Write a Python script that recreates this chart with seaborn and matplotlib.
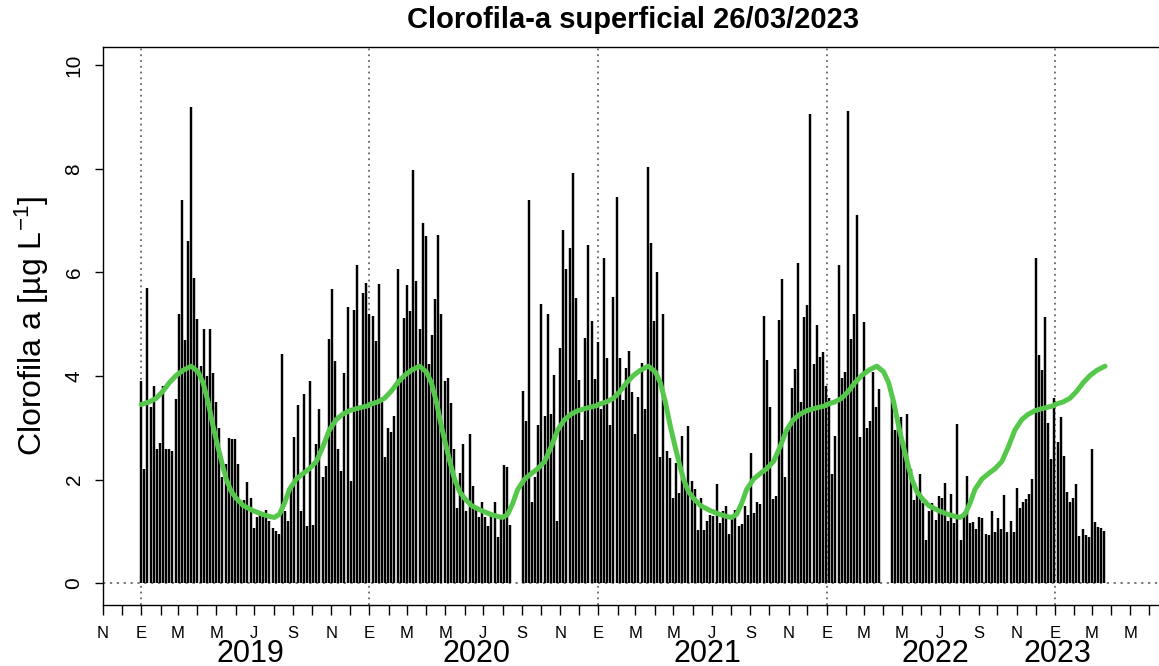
#!/usr/bin/env python3
""" Clorofila-a superficial: serie de 5 dias y climatologia """

import pandas as pd
import numpy as np
import matplotlib
matplotlib.use('Agg')
import matplotlib.pyplot as plt
import matplotlib.dates as mdates
import matplotlib.ticker as mticker
import seaborn as sns

# Valores (ug/L), un valor cada 5 dias desde 2019-01-01
chl_2019 = [3.9, 2.2, 5.7, 3.4, 3.8, 2.6, 2.7, 3.8, 2.6, 2.6,
            2.55, 3.55, 5.2, 7.4, 4.7, 6.6, 9.2, 5.9, 5.1, 4.2,
            4.9, 4.0, 4.9, 4.05, 3.5, 3.0, 2.05, 2.3, 2.8, 2.78,
            2.78, 2.3, 1.55, 1.6, 1.95, 1.65, 1.07, 1.27, 1.35, 1.3,
            1.42, 1.2, 1.07, 1.0, 0.95, 4.42, 1.4, 1.2, 1.9, 2.83,
            3.44, 1.4, 3.65, 1.1, 3.9, 1.13, 2.69, 3.37, 2.05, 2.27,
            4.71, 5.67, 4.28, 2.6, 2.17, 4.06, 5.33, 1.98, 5.27, 6.15,
            3.36, 5.6, 5.8]
chl_2020 = [5.2, 5.16, 4.67, 5.77, 3.5, 2.43, 2.99, 2.91, 3.23, 6.06,
            3.98, 5.11, 5.75, 5.26, 7.97, 5.84, 4.9, 6.96, 6.7, 4.23,
            4.79, 5.49, 6.73, 5.2, 3.9, 3.96, 3.47, 2.6, 1.46, 2.13,
            2.68, 1.4, 2.89, 1.88, 1.44, 1.28, 1.56, 1.28, 1.1, 1.33,
            1.57, 0.89, 1.3, 2.28, 2.25, 1.13, np.nan, np.nan, np.nan, 3.71,
            3.13, 7.4, 1.57, 2.05, 3.06, 5.39, 3.22, 5.2, 3.27, 4.01,
            1.2, 4.54, 6.81, 6.06, 6.47, 7.91, 5.5, 3.92, 2.76, 4.73,
            6.52, 5.06, 3.94]
chl_2021 = [4.65, 3.37, 6.28, 4.35, 3.06, 5.53, 7.45, 4.35, 3.54, 4.15,
            4.48, 3.7, 2.89, 3.6, 4.26, 3.37, 8.03, 6.56, 5.06, 6.01,
            2.43, 5.2, 2.55, 2.42, 1.64, 2.32, 1.74, 2.84, 1.94, 3.03,
            1.98, 1.81, 1.03, 1.64, 1.03, 1.2, 1.32, 1.3, 1.91, 1.16,
            1.4, 1.5, 0.96, 1.25, 1.42, 1.1, 1.14, 1.5, 1.32, 2.52,
            1.35, 1.56, 1.52, 5.16, 4.3, 3.41, 1.63, 1.69, 5.08, 5.87,
            2.05, 3.0, 3.77, 4.14, 6.18, 3.5, 5.14, 5.37, 9.06, 4.23,
            4.99, 4.37, 4.47]
chl_2022 = [3.8, 3.57, 2.11, 2.84, 6.14, 3.96, 4.08, 9.11, 4.72, 5.2,
            7.11, 2.82, 5.04, 3.0, 3.13, 4.08, 3.41, 3.74, np.nan, np.nan,
            np.nan, 3.54, 2.96, 3.0, 3.2, 2.69, 3.27, 2.2, 1.6, 1.77,
            2.11, 1.54, 0.83, 1.4, 1.54, 1.23, 1.69, 1.64, 1.94, 1.21,
            1.73, 1.17, 3.07, 0.83, 1.37, 2.07, 1.17, 1.19, 1.04, 1.27,
            1.25, 0.96, 0.93, 1.39, 0.99, 1.25, 1.04, 1.71, 0.98, 1.21,
            0.98, 1.84, 1.46, 1.57, 1.62, 1.73, 2.01, 6.27, 4.4, 4.12,
            5.14, 3.1, 2.4]
chl_2023 = [3.57, 2.72, 3.2, 2.45, 1.77, 1.57, 1.64, 1.91, 0.91, 1.04,
            0.93, 0.89, 2.6, 1.19, 1.08, 1.06, 1.01]

# Climatologia: dia del anio y valor medio
clim_doy = [0, 13, 24, 35, 45, 56, 67, 80, 91, 99, 107, 115, 123, 130, 136,
            144, 152, 163, 179, 194, 205, 213, 221, 229, 237, 248, 258, 269,
            280, 290, 301, 312, 322, 333, 344, 354, 364]
clim_val = [3.45, 3.5, 3.57, 3.71, 3.87, 4.01, 4.11, 4.19, 4.08, 3.87, 3.5,
            3.03, 2.62, 2.28, 2.01, 1.77, 1.64, 1.5, 1.4, 1.33, 1.29, 1.27,
            1.33, 1.54, 1.81, 2.01, 2.11, 2.21, 2.35, 2.62, 2.96, 3.16, 3.26,
            3.33, 3.37, 3.4, 3.43]

years = [2019, 2020, 2021, 2022, 2023]
year_label_dates = ['2019-06-24', '2020-06-20', '2021-06-25', '2022-06-23', '2023-01-05']
month_letters = {1: 'E', 3: 'M', 5: 'M', 7: 'J', 9: 'S', 11: 'N'}


def build_data():
  values = chl_2019 + chl_2020 + chl_2021 + chl_2022 + chl_2023
  chl = pd.DataFrame({
    'fecha': pd.date_range('2019-01-01', periods=len(values), freq='5D'),
    'chl': values,
  })
  last = chl['fecha'].iloc[-1] + pd.Timedelta(days=1)
  rows = []
  for yr in years:
    for d, v in zip(clim_doy, clim_val):
      f = pd.Timestamp(f'{yr}-01-01') + pd.Timedelta(days=d)
      if f <= last:
        rows.append((f, v))
  clim = pd.DataFrame(rows, columns=['fecha', 'chl'])
  return chl.dropna(), clim


def main():
  chl, clim = build_data()

  sns.set_style('ticks')
  plt.rcParams['font.family'] = ['Liberation Sans', 'DejaVu Sans']
  plt.rcParams['mathtext.default'] = 'regular'
  for k in ['text.color', 'axes.labelcolor', 'xtick.color', 'ytick.color', 'axes.edgecolor']:
    plt.rcParams[k] = 'black'

  fig = plt.figure(figsize=(11.59, 6.66), dpi=100)
  # eje x: 0.6256 px por dia, 1-ene-2019 en x=141 px
  ax = fig.add_axes([103 / 1159, 1 - 605 / 666, (1167.6 - 103) / 1159, (605 - 47) / 666])

  # Lineas de referencia
  ax.axhline(0, color='#555555', ls=(0, (1.5, 3)), lw=1.1, zorder=1)
  for yr in years:
    ax.axvline(pd.Timestamp(f'{yr}-01-01'), color='#666666', ls=(0, (1, 2.2)), lw=1.3, zorder=1)

  # Barras
  ax.vlines(chl['fecha'], 0, chl['chl'], color='black', lw=1.75, zorder=2, capstyle='butt')

  # Climatologia
  sns.lineplot(data=clim, x='fecha', y='chl', color='#55c84b', lw=3.6, ax=ax,
               estimator=None, zorder=3)

  ax.set_xlim(pd.Timestamp('2018-11-01'), pd.Timestamp('2023-06-30'))
  ax.set_ylim(-0.42, 10.35)
  ax.set_yticks([0, 2, 4, 6, 8, 10])
  ax.tick_params(axis='y', labelsize=15, length=6, width=1, pad=8)
  plt.setp(ax.get_yticklabels(), rotation=90, va='center')

  ax.xaxis.set_major_locator(mdates.MonthLocator(bymonth=[1, 3, 5, 7, 9, 11]))
  ax.xaxis.set_minor_locator(mdates.MonthLocator())
  ax.xaxis.set_major_formatter(mticker.FuncFormatter(
    lambda x, pos: month_letters[mdates.num2date(x).month]))
  ax.tick_params(axis='x', which='both', length=7, width=1, labelsize=12, pad=8)

  for yl, fd in zip(years, year_label_dates):
    ax.text(pd.Timestamp(fd), -0.087, str(yl), transform=ax.get_xaxis_transform(),
            ha='center', va='center', fontsize=22)

  ax.set_xlabel('')
  ax.set_ylabel('Clorofila a [µg L$^{-1}$]', fontsize=23, labelpad=10)
  fig.text(633 / 1159, 1 - 20 / 666, 'Clorofila-a superficial 26/03/2023',
           ha='center', va='center', fontsize=21, fontweight='bold')

  for s in ax.spines.values():
    s.set_linewidth(1.0)
  ax.spines['right'].set_visible(False)

  fig.savefig('out.png', dpi=100)


if __name__ == '__main__':
  main()
